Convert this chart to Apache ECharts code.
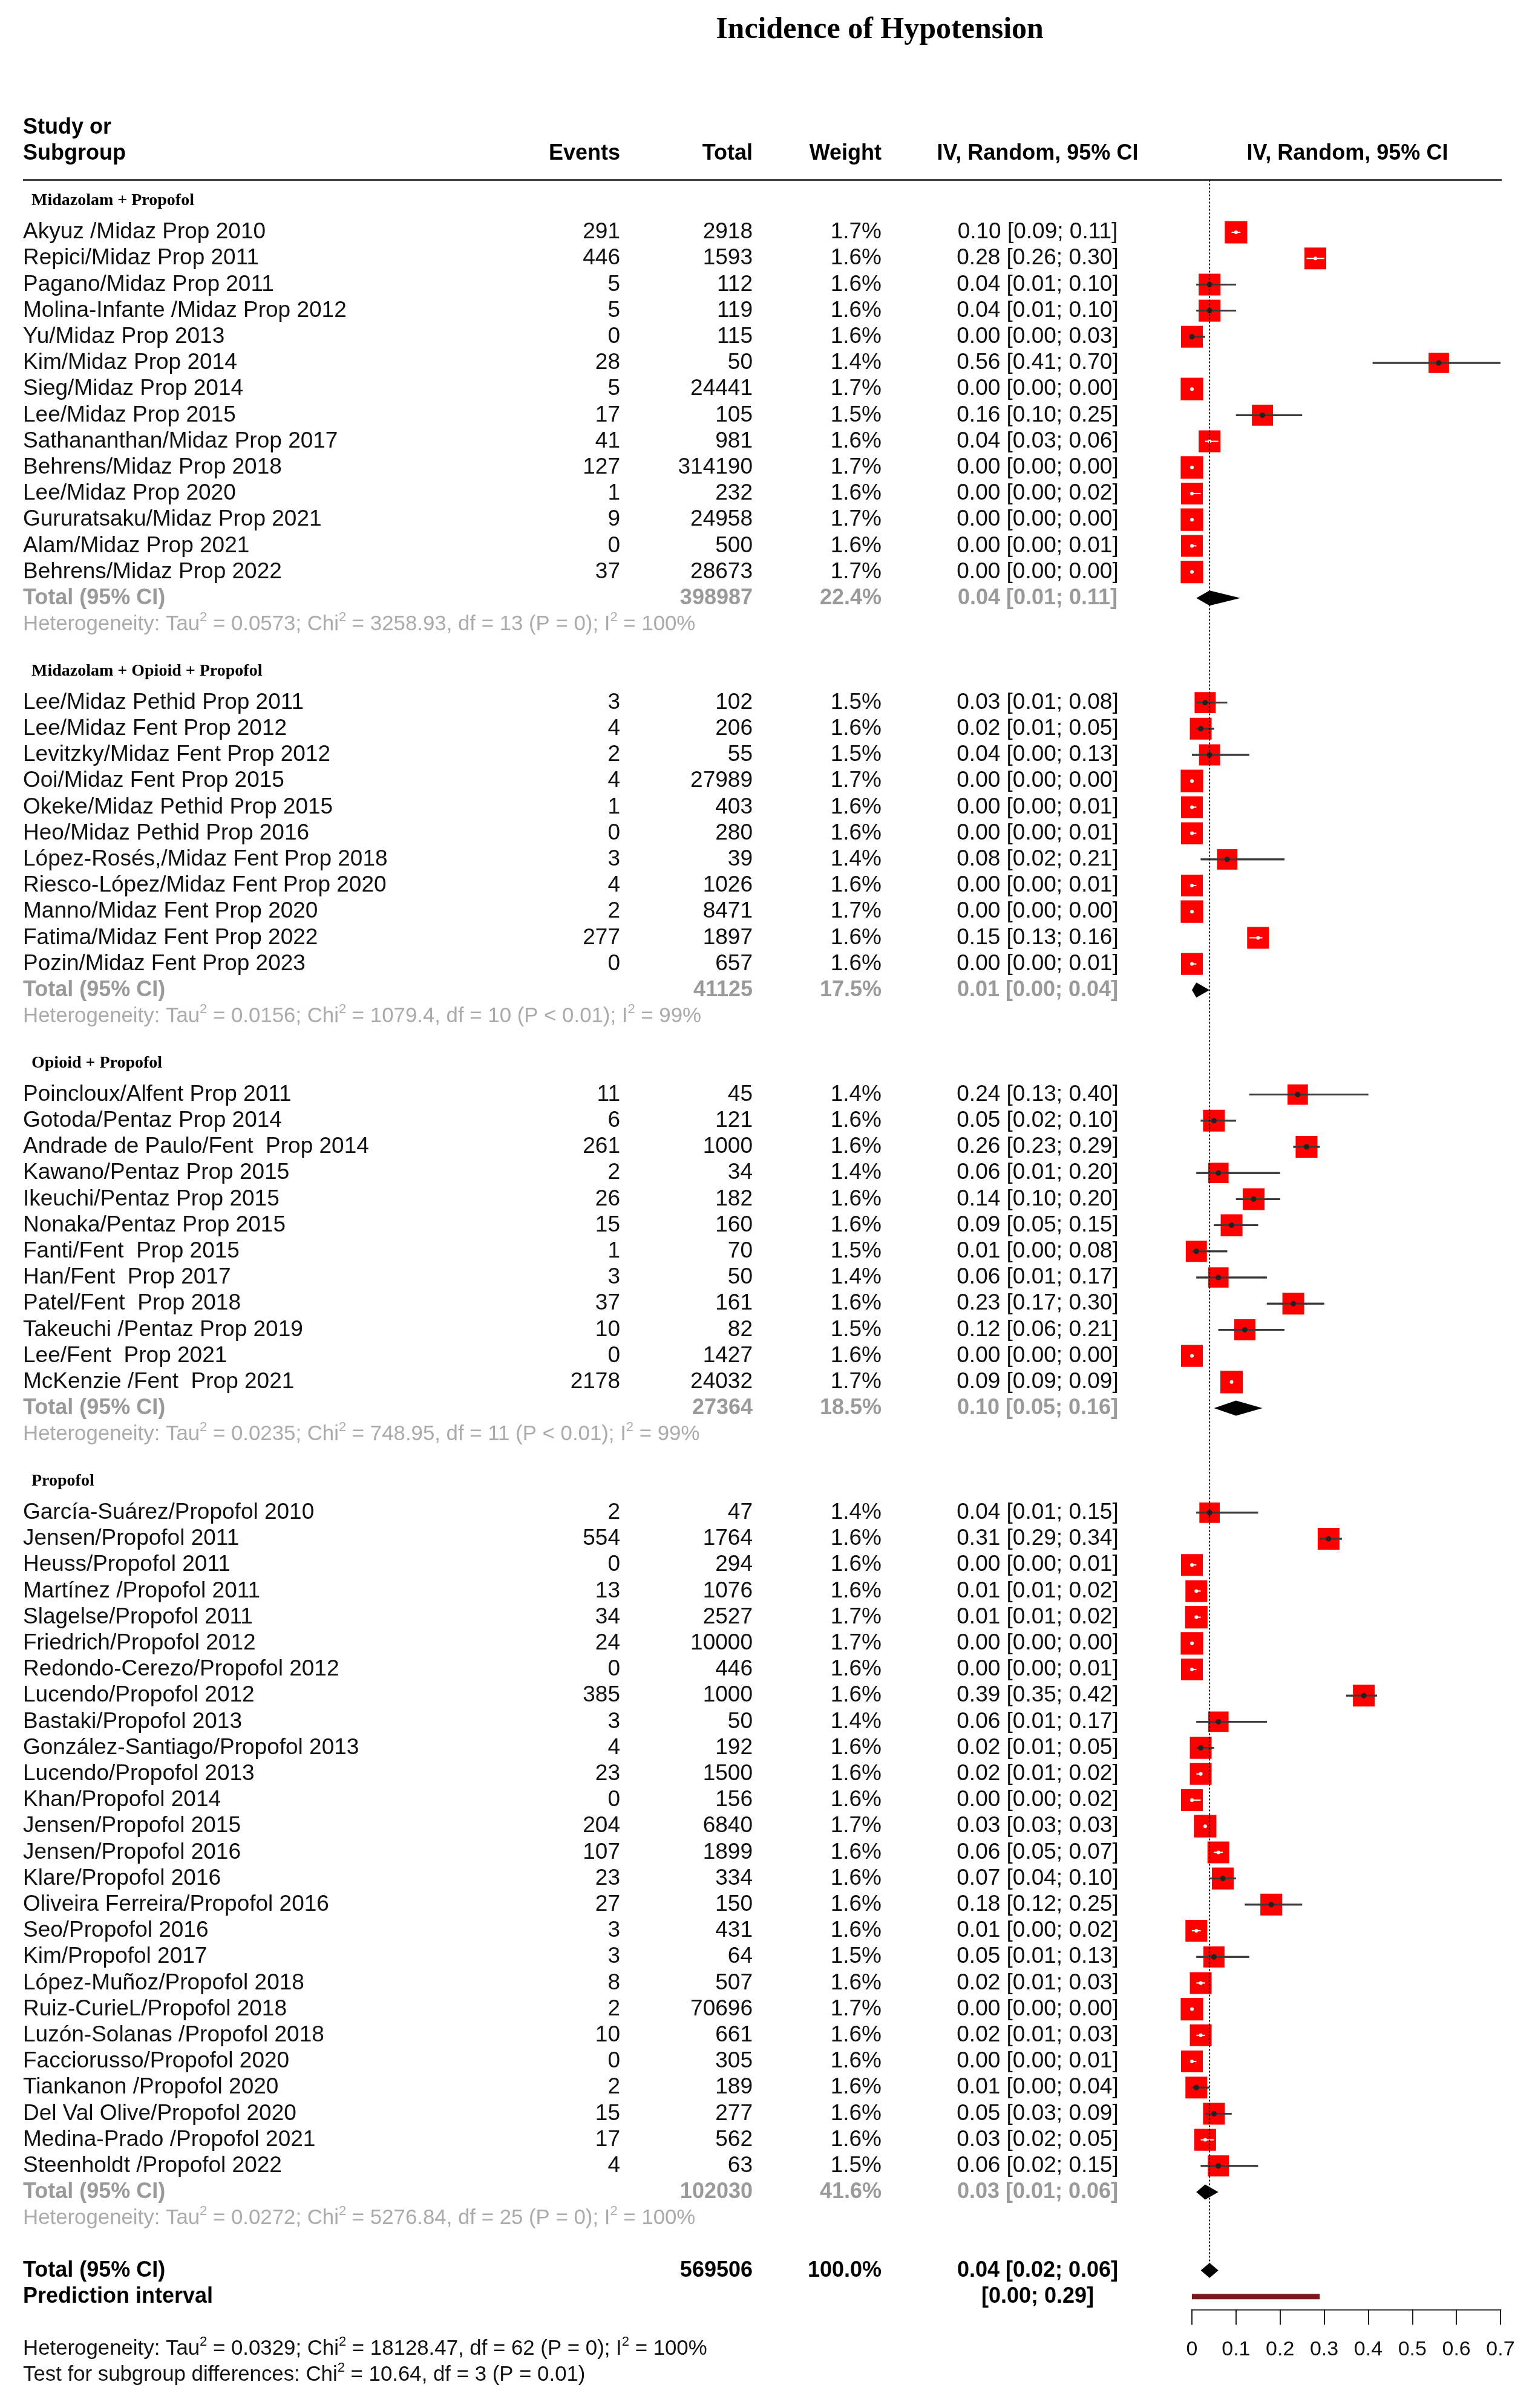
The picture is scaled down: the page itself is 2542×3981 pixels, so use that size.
<!DOCTYPE html>
<html>
<head>
<meta charset="utf-8">
<script src="https://cdn.jsdelivr.net/npm/echarts@6/dist/echarts.min.js"></script>
<style>
html,body{margin:0;padding:0;background:#fff;}
#chart{width:2542px;height:3981px;}
</style>
</head>
<body>
<div id="chart"></div>
<script>
// ---------------- DATA ----------------
const chartTitle = 'Incidence of Hypotension';
const groupLabels = ['Midazolam + Propofol', 'Midazolam + Opioid + Propofol', 'Opioid + Propofol', 'Propofol'];
const groupSizes = [14, 11, 12, 26];

const studies = [
  'Akyuz /Midaz Prop 2010','Repici/Midaz Prop 2011','Pagano/Midaz Prop 2011','Molina-Infante /Midaz Prop 2012','Yu/Midaz Prop 2013','Kim/Midaz Prop 2014','Sieg/Midaz Prop 2014','Lee/Midaz Prop 2015','Sathananthan/Midaz Prop 2017','Behrens/Midaz Prop 2018','Lee/Midaz Prop 2020','Gururatsaku/Midaz Prop 2021','Alam/Midaz Prop 2021','Behrens/Midaz Prop 2022',
  'Lee/Midaz Pethid Prop 2011','Lee/Midaz Fent Prop 2012','Levitzky/Midaz Fent Prop 2012','Ooi/Midaz Fent Prop 2015','Okeke/Midaz Pethid Prop 2015','Heo/Midaz Pethid Prop 2016','López-Rosés,/Midaz Fent Prop 2018','Riesco-López/Midaz Fent Prop 2020','Manno/Midaz Fent Prop 2020','Fatima/Midaz Fent Prop 2022','Pozin/Midaz Fent Prop 2023',
  'Poincloux/Alfent Prop 2011','Gotoda/Pentaz Prop 2014','Andrade de Paulo/Fent  Prop 2014','Kawano/Pentaz Prop 2015','Ikeuchi/Pentaz Prop 2015','Nonaka/Pentaz Prop 2015','Fanti/Fent  Prop 2015','Han/Fent  Prop 2017','Patel/Fent  Prop 2018','Takeuchi /Pentaz Prop 2019','Lee/Fent  Prop 2021','McKenzie /Fent  Prop 2021',
  'García-Suárez/Propofol 2010','Jensen/Propofol 2011','Heuss/Propofol 2011','Martínez /Propofol 2011','Slagelse/Propofol 2011','Friedrich/Propofol 2012','Redondo-Cerezo/Propofol 2012','Lucendo/Propofol 2012','Bastaki/Propofol 2013','González-Santiago/Propofol 2013','Lucendo/Propofol 2013','Khan/Propofol 2014','Jensen/Propofol 2015','Jensen/Propofol 2016','Klare/Propofol 2016','Oliveira Ferreira/Propofol 2016','Seo/Propofol 2016','Kim/Propofol 2017','López-Muñoz/Propofol 2018','Ruiz-CurieL/Propofol 2018','Luzón-Solanas /Propofol 2018','Facciorusso/Propofol 2020','Tiankanon /Propofol 2020','Del Val Olive/Propofol 2020','Medina-Prado /Propofol 2021','Steenholdt /Propofol 2022'
];
const events = [
  291,446,5,5,0,28,5,17,41,127,1,9,0,37,
  3,4,2,4,1,0,3,4,2,277,0,
  11,6,261,2,26,15,1,3,37,10,0,2178,
  2,554,0,13,34,24,0,385,3,4,23,0,204,107,23,27,3,3,8,2,10,0,2,15,17,4
];
const totals = [
  2918,1593,112,119,115,50,24441,105,981,314190,232,24958,500,28673,
  102,206,55,27989,403,280,39,1026,8471,1897,657,
  45,121,1000,34,182,160,70,50,161,82,1427,24032,
  47,1764,294,1076,2527,10000,446,1000,50,192,1500,156,6840,1899,334,150,431,64,507,70696,661,305,189,277,562,63
];
const weights = [
  1.7,1.6,1.6,1.6,1.6,1.4,1.7,1.5,1.6,1.7,1.6,1.7,1.6,1.7,
  1.5,1.6,1.5,1.7,1.6,1.6,1.4,1.6,1.7,1.6,1.6,
  1.4,1.6,1.6,1.4,1.6,1.6,1.5,1.4,1.6,1.5,1.6,1.7,
  1.4,1.6,1.6,1.6,1.7,1.7,1.6,1.6,1.4,1.6,1.6,1.6,1.7,1.6,1.6,1.6,1.6,1.5,1.6,1.7,1.6,1.6,1.6,1.6,1.6,1.5
];
const estimates = [
  0.10,0.28,0.04,0.04,0.00,0.56,0.00,0.16,0.04,0.00,0.00,0.00,0.00,0.00,
  0.03,0.02,0.04,0.00,0.00,0.00,0.08,0.00,0.00,0.15,0.00,
  0.24,0.05,0.26,0.06,0.14,0.09,0.01,0.06,0.23,0.12,0.00,0.09,
  0.04,0.31,0.00,0.01,0.01,0.00,0.00,0.39,0.06,0.02,0.02,0.00,0.03,0.06,0.07,0.18,0.01,0.05,0.02,0.00,0.02,0.00,0.01,0.05,0.03,0.06
];
const lowerCI = [
  0.09,0.26,0.01,0.01,0.00,0.41,0.00,0.10,0.03,0.00,0.00,0.00,0.00,0.00,
  0.01,0.01,0.00,0.00,0.00,0.00,0.02,0.00,0.00,0.13,0.00,
  0.13,0.02,0.23,0.01,0.10,0.05,0.00,0.01,0.17,0.06,0.00,0.09,
  0.01,0.29,0.00,0.01,0.01,0.00,0.00,0.35,0.01,0.01,0.01,0.00,0.03,0.05,0.04,0.12,0.00,0.01,0.01,0.00,0.01,0.00,0.00,0.03,0.02,0.02
];
const upperCI = [
  0.11,0.30,0.10,0.10,0.03,0.70,0.00,0.25,0.06,0.00,0.02,0.00,0.01,0.00,
  0.08,0.05,0.13,0.00,0.01,0.01,0.21,0.01,0.00,0.16,0.01,
  0.40,0.10,0.29,0.20,0.20,0.15,0.08,0.17,0.30,0.21,0.00,0.09,
  0.15,0.34,0.01,0.02,0.02,0.00,0.01,0.42,0.17,0.05,0.02,0.02,0.03,0.07,0.10,0.25,0.02,0.13,0.03,0.00,0.03,0.01,0.04,0.09,0.05,0.15
];

const subgroupTotals = [398987, 41125, 27364, 102030];
const subgroupWeights = [22.4, 17.5, 18.5, 41.6];
const subgroupEst = [0.04, 0.01, 0.10, 0.03];
const subgroupLower = [0.01, 0.00, 0.05, 0.01];
const subgroupUpper = [0.11, 0.04, 0.16, 0.06];
const subgroupTau2 = ['0.0573', '0.0156', '0.0235', '0.0272'];
const subgroupChi2 = ['3258.93', '1079.4', '748.95', '5276.84'];
const subgroupDf = [13, 10, 11, 25];
const subgroupP = ['P = 0', 'P < 0.01', 'P < 0.01', 'P = 0'];
const subgroupI2 = ['100%', '99%', '99%', '100%'];

const overallTotal = 569506;
const overallWeight = 100.0;
const overallEst = 0.04, overallLower = 0.02, overallUpper = 0.06;
const predictionLower = 0.00, predictionUpper = 0.29;
const overallHet = { tau2: '0.0329', chi2: '18128.47', df: 62, p: 'P = 0', i2: '100%' };
const subgroupTest = { chi2: '10.64', df: 3, p: 'P = 0.01' };

const xTicks = { min: 0, max: 0.7, step: 0.1 };

// ---------------- LAYOUT ----------------
const SANS = '"Liberation Sans", Arial, Helvetica, sans-serif';
const SERIF = '"Liberation Serif", "Times New Roman", serif';
const COL = { name: 38, group: 52, events: 1025, total: 1244, weight: 1457, ci: 1715, plotHead: 2227, lineL: 38, lineR: 2482, title: 1454 };
const ROW_PX = 43.2, Y_MIN = -2, Y_MAX = 79.5, GRID_TOP = 297.6;
const HET_SIZE = 34.8;

const f2 = v => v.toFixed(2);
const ciText = (e, l, u) => f2(e) + ' [' + f2(l) + '; ' + f2(u) + ']';

const textRows = [];   // {row, cells:[...]}
const studyMarks = []; // [est,row,lo,hi,w]
const diamonds = [];   // [est,row,lo,hi]
function cell(x, text, align, size, weight, color, family, rich) {
  return { x, text, align, size, weight, color, family: family || SANS, rich };
}
const BLACK = '#111', GRAY = '#9a9a9a', LGRAY = '#ababab';

textRows.push({ row: -7.73, cells: [cell(COL.title, chartTitle, 'center', 50, 'bold', '#000', SERIF)] });
textRows.push({ row: -4, cells: [cell(COL.name, 'Study or', 'left', 36, 'bold', '#000')] });
textRows.push({ row: -3, cells: [
  cell(COL.name, 'Subgroup', 'left', 36, 'bold', '#000'),
  cell(COL.events, 'Events', 'right', 36, 'bold', '#000'),
  cell(COL.total, 'Total', 'right', 36, 'bold', '#000'),
  cell(COL.weight, 'Weight', 'right', 36, 'bold', '#000'),
  cell(COL.ci, 'IV, Random, 95% CI', 'center', 36, 'bold', '#000'),
  cell(COL.plotHead, 'IV, Random, 95% CI', 'center', 36, 'bold', '#000')
]});
textRows.push({ row: -2, line: true, cells: [] });

function hetText(tau2, chi2, df, p, i2) {
  return 'Heterogeneity: Tau{s|2} = ' + tau2 + '; Chi{s|2} = ' + chi2 + ', df = ' + df + ' (' + p + '); I{s|2} = ' + i2;
}

let start = 0, idx = 0, lastHetRow = 0;
groupSizes.forEach((n, g) => {
  textRows.push({ row: start - 1.2, cells: [cell(COL.group, groupLabels[g], 'left', 28, 'bold', '#000', SERIF)] });
  for (let k = 0; k < n; k++, idx++) {
    const r = start + k;
    textRows.push({ row: r, cells: [
      cell(COL.name, studies[idx], 'left', 37, 'normal', BLACK),
      cell(COL.events, String(events[idx]), 'right', 37, 'normal', BLACK),
      cell(COL.total, String(totals[idx]), 'right', 37, 'normal', BLACK),
      cell(COL.weight, weights[idx].toFixed(1) + '%', 'right', 37, 'normal', BLACK),
      cell(COL.ci, ciText(estimates[idx], lowerCI[idx], upperCI[idx]), 'center', 37, 'normal', BLACK)
    ]});
    studyMarks.push([estimates[idx], r, lowerCI[idx], upperCI[idx], weights[idx]]);
  }
  const tr = start + n;
  textRows.push({ row: tr, cells: [
    cell(COL.name, 'Total (95% CI)', 'left', 36, 'bold', GRAY),
    cell(COL.total, String(subgroupTotals[g]), 'right', 36, 'bold', GRAY),
    cell(COL.weight, subgroupWeights[g].toFixed(1) + '%', 'right', 36, 'bold', GRAY),
    cell(COL.ci, ciText(subgroupEst[g], subgroupLower[g], subgroupUpper[g]), 'center', 36, 'bold', GRAY)
  ]});
  diamonds.push([subgroupEst[g], tr, subgroupLower[g], subgroupUpper[g]]);
  lastHetRow = tr + 1;
  textRows.push({ row: lastHetRow, cells: [
    cell(COL.name, hetText(subgroupTau2[g], subgroupChi2[g], subgroupDf[g], subgroupP[g], subgroupI2[g]), 'left', HET_SIZE, 'normal', LGRAY, SANS, true)
  ]});
  start = lastHetRow + 3;
});
const overallRow = lastHetRow + 2;
textRows.push({ row: overallRow, cells: [
  cell(COL.name, 'Total (95% CI)', 'left', 36, 'bold', '#000'),
  cell(COL.total, String(overallTotal), 'right', 36, 'bold', '#000'),
  cell(COL.weight, overallWeight.toFixed(1) + '%', 'right', 36, 'bold', '#000'),
  cell(COL.ci, ciText(overallEst, overallLower, overallUpper), 'center', 36, 'bold', '#000')
]});
diamonds.push([overallEst, overallRow, overallLower, overallUpper]);
textRows.push({ row: overallRow + 1, cells: [
  cell(COL.name, 'Prediction interval', 'left', 36, 'bold', '#000'),
  cell(COL.ci, '[' + f2(predictionLower) + '; ' + f2(predictionUpper) + ']', 'center', 36, 'bold', '#000')
]});
textRows.push({ row: overallRow + 3, cells: [
  cell(COL.name, hetText(overallHet.tau2, overallHet.chi2, overallHet.df, overallHet.p, overallHet.i2), 'left', HET_SIZE, 'normal', BLACK, SANS, true)
]});
textRows.push({ row: overallRow + 4, cells: [
  cell(COL.name, 'Test for subgroup differences: Chi{s|2} = ' + subgroupTest.chi2 + ', df = ' + subgroupTest.df + ' (' + subgroupTest.p + ')', 'left', HET_SIZE, 'normal', BLACK, SANS, true)
]});

// ---------------- CHART ----------------
const chart = echarts.init(document.getElementById('chart'), null, { renderer: 'canvas' });

function makeText(c, x, y) {
  const st = {
    text: c.text, align: c.align, verticalAlign: 'middle',
    fontSize: c.size, fontWeight: c.weight, fontFamily: c.family, fill: c.color
  };
  if (c.rich) {
    st.lineHeight = 44;
    st.rich = { s: { fontSize: 22, lineHeight: 22, verticalAlign: 'top', fontFamily: c.family, fontWeight: c.weight, fill: c.color } };
  }
  return { type: 'text', x: x, y: y, style: st };
}

const option = {
  backgroundColor: '#ffffff',
  animation: false,
  grid: {
    left: 1970, width: 510, top: GRID_TOP, height: (Y_MAX - Y_MIN) * ROW_PX,
    containLabel: false, outerBoundsMode: 'none'
  },
  xAxis: {
    type: 'value', min: xTicks.min, max: xTicks.max, interval: xTicks.step, position: 'bottom',
    axisLine: { show: true, onZero: false, lineStyle: { color: '#666', width: 3 } },
    axisTick: { show: true, length: 25, lineStyle: { color: '#222', width: 2 } },
    axisLabel: { fontSize: 34, fontFamily: SANS, color: '#111', margin: 49 },
    splitLine: { show: false }
  },
  yAxis: { type: 'value', inverse: true, min: Y_MIN, max: Y_MAX, show: false },
  series: [
    {
      type: 'custom', name: 'texts', silent: true, clip: false,
      data: textRows.map((r, i) => [0, r.row, i]),
      encode: { x: 0, y: 1 },
      renderItem: function (params, api) {
        const tr = textRows[api.value(2)];
        const y = api.coord([0, api.value(1)])[1];
        const children = [];
        if (tr.line) {
          children.push({ type: 'line', shape: { x1: COL.lineL, y1: y, x2: COL.lineR, y2: y }, style: { stroke: '#444', lineWidth: 3 } });
        }
        tr.cells.forEach(c => children.push(makeText(c, c.x, y)));
        return { type: 'group', children };
      }
    },
    {
      type: 'custom', name: 'prediction', silent: true, clip: false,
      data: [[predictionLower, overallRow + 1, predictionUpper]],
      encode: { x: [0, 2], y: 1 },
      renderItem: function (params, api) {
        const a = api.coord([api.value(0), api.value(1)]);
        const b = api.coord([api.value(2), api.value(1)]);
        return { type: 'rect', shape: { x: a[0], y: a[1] - 4.5, width: b[0] - a[0], height: 9 }, style: { fill: '#7d1a1f' } };
      }
    },
    {
      type: 'custom', name: 'studies', silent: true, clip: false,
      data: studyMarks,
      encode: { x: [0, 2, 3], y: 1 },
      renderItem: function (params, api) {
        const row = api.value(1);
        const p = api.coord([api.value(0), row]);
        const pl = api.coord([api.value(2), row]);
        const ph = api.coord([api.value(3), row]);
        const s = 28.5 * Math.sqrt(api.value(4));
        const inside = pl[0] >= p[0] - s / 2 && ph[0] <= p[0] + s / 2;
        const ch = [];
        ch.push({ type: 'line', shape: { x1: pl[0], y1: p[1], x2: ph[0], y2: p[1] }, style: { stroke: '#5a5a5a', lineWidth: 3 } });
        ch.push({ type: 'rect', shape: { x: p[0] - s / 2, y: p[1] - s / 2, width: s, height: s }, style: { fill: '#ff0000' } });
        if (inside) {
          if (ph[0] - pl[0] > 1) ch.push({ type: 'line', shape: { x1: pl[0], y1: p[1], x2: ph[0], y2: p[1] }, style: { stroke: '#ffffff', lineWidth: 2 } });
          ch.push({ type: 'circle', shape: { cx: p[0], cy: p[1], r: 3 }, style: { fill: '#ffffff' } });
        } else {
          ch.push({ type: 'line', shape: { x1: pl[0], y1: p[1], x2: ph[0], y2: p[1] }, style: { stroke: '#3a3a3a', lineWidth: 3 } });
          ch.push({ type: 'circle', shape: { cx: p[0], cy: p[1], r: 4.5 }, style: { fill: '#222' } });
        }
        return { type: 'group', children: ch };
      }
    },
    {
      type: 'custom', name: 'diamonds', silent: true, clip: false,
      data: diamonds,
      encode: { x: [0, 2, 3], y: 1 },
      renderItem: function (params, api) {
        const row = api.value(1);
        const p = api.coord([api.value(0), row]);
        const pl = api.coord([api.value(2), row]);
        const ph = api.coord([api.value(3), row]);
        const h = 12.5;
        return { type: 'polygon', shape: { points: [[pl[0], p[1]], [p[0], p[1] - h], [ph[0], p[1]], [p[0], p[1] + h]] }, style: { fill: '#000' } };
      }
    },
    {
      type: 'custom', name: 'refline', silent: true, clip: false, z: 5,
      data: [[overallEst, Y_MIN, overallRow]],
      encode: { x: 0, y: [1, 2] },
      renderItem: function (params, api) {
        const a = api.coord([api.value(0), api.value(1)]);
        const b = api.coord([api.value(0), api.value(2)]);
        return { type: 'line', shape: { x1: a[0], y1: a[1], x2: b[0], y2: b[1] }, style: { stroke: '#111', lineWidth: 2, lineDash: [3, 3] } };
      }
    }
  ]
};
chart.setOption(option);
</script>
</body>
</html>
